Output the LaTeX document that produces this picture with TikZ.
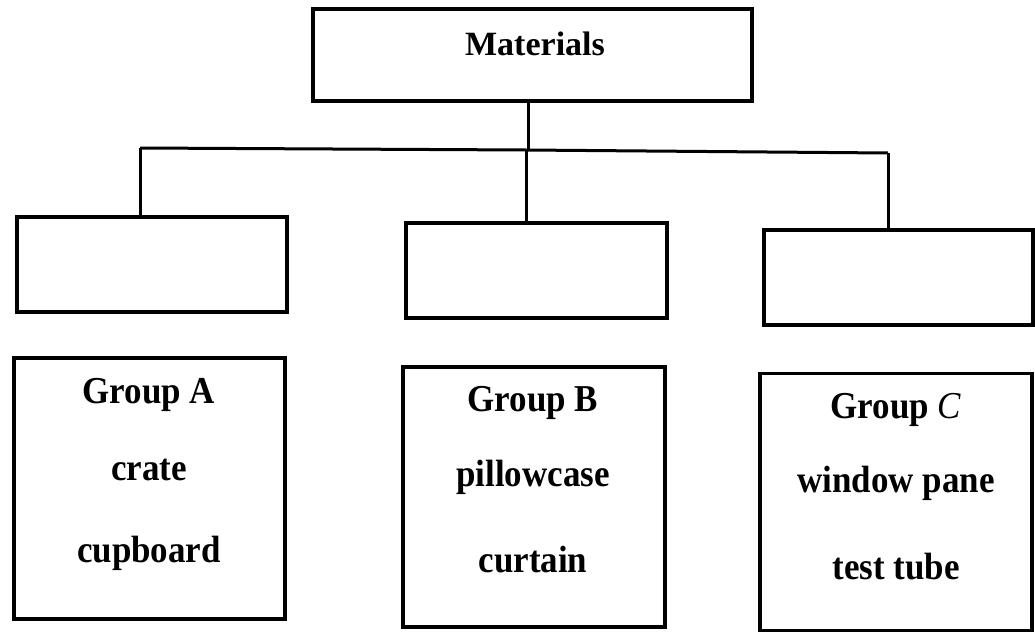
\documentclass[tikz,border=0pt]{standalone}
\usepackage{fontspec}
\setmainfont{Liberation Serif}
\newfontfamily\grpfont[FakeStretch=0.92]{Liberation Serif}
\begin{document}
\begin{tikzpicture}[x=1pt,y=-1pt,
  box/.style={draw, line width=3.2pt, rectangle, inner sep=0pt},
  conn/.style={line width=3pt},
  lbl/.style={font=\grpfont\fontsize{38}{44}\selectfont\bfseries, inner sep=0pt}]
\useasboundingbox (0,0) rectangle (1035,634);
% top box
\node[box, minimum width=439pt, minimum height=92pt] (m) at (532.5,55) {};
\node[inner sep=0pt, font=\fontsize{34}{40}\selectfont\bfseries] (mt) at (535,44) {Materials};
% empty boxes
\node[box, minimum width=270pt, minimum height=95pt] (a1) at (152,264.5) {};
\node[box, minimum width=261pt, minimum height=95pt] (b1) at (536.5,270.5) {};
\node[box, minimum width=269pt, minimum height=95pt] (c1) at (898.5,277.5) {};
% group boxes
\node[box, minimum width=271pt, minimum height=261pt] (a2) at (149.5,488.5) {};
\node[box, minimum width=262pt, minimum height=260pt] (b2) at (534,497) {};
\node[box, minimum width=272pt, minimum height=257pt] (c2) at (896,502) {};
% texts
\node[lbl] (at) at (149,395) {Group A};
\node[lbl] (ac) at (149,470) {crate};
\node[lbl] (ad) at (149,553) {cupboard};
\node[lbl] (bt) at (533,403) {Group B};
\node[lbl] (bc) at (533,477) {pillowcase};
\node[lbl] (bd) at (533,560) {curtain};
\node[lbl] (ct) at (896,410) {Group \textit{\mdseries C}};
\node[lbl] (cc) at (896,483) {window pane};
\node[lbl] (cd) at (896,567) {test tube};
% connectors
\coordinate (j) at (528,150);
\coordinate (ja) at (140,148);
\coordinate (jb) at (526,150);
\coordinate (jc) at (888,153);
\draw[conn] (m.south -| j) -- (j);
\draw[conn] (ja) -- (jb) -- (jc);
\draw[conn] (ja) -- (ja |- a1.north);
\draw[conn] (jb) -- (jb |- b1.north);
\draw[conn] (jc) -- (jc |- c1.north);
\end{tikzpicture}
\end{document}
